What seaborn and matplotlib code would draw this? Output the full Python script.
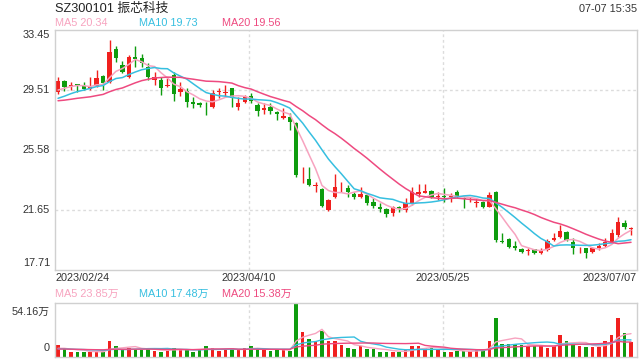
import numpy as np
import pandas as pd
import matplotlib
matplotlib.use('Agg')
import matplotlib.pyplot as plt
import seaborn as sns

# ---------------- data ----------------
opens = [29.36, 30.11, 29.81, 29.88, 29.80, 29.56, 29.80, 30.43, 30.02, 32.20,
         31.15, 30.39, 31.70, 31.59, 31.04, 30.17, 30.17, 29.78, 30.50, 29.40,
         29.45, 28.75, 28.63, 28.56, 28.42, 29.37, 29.33, 29.63, 28.42, 28.75,
         29.12, 28.53, 28.20, 28.42, 28.05, 27.70, 27.76, 27.35, 23.79, 23.68,
         23.22, 23.02, 21.65, 22.48, 23.19, 23.12, 22.69, 22.52, 22.63, 22.19,
         21.86, 21.71, 21.43, 21.86, 21.65, 22.10, 22.69, 22.79, 22.90, 22.53,
         22.56, 22.53, 22.83, 22.41, 22.33, 22.10, 22.19, 21.86, 22.85, 19.58,
         19.72, 19.28, 19.07, 18.96, 19.07, 18.85, 19.02, 19.68, 19.86, 20.22,
         19.57, 19.00, 19.13, 18.91, 19.13, 19.28, 19.50, 20.01, 20.77, 20.42]
closes = [30.11, 29.69, 29.86, 29.78, 29.56, 29.78, 30.30, 29.95, 32.03, 31.63,
          30.71, 31.66, 31.55, 31.27, 30.39, 30.39, 29.63, 29.84, 29.23, 29.58,
          28.75, 28.58, 28.56, 28.50, 29.30, 29.42, 29.38, 28.97, 28.64, 29.08,
          28.79, 28.16, 28.31, 28.16, 27.92, 27.81, 27.44, 23.94, 23.83, 23.29,
          23.27, 21.93, 22.30, 23.17, 23.25, 22.85, 22.52, 22.69, 22.09, 21.94,
          21.71, 21.38, 21.82, 21.68, 22.09, 22.83, 22.85, 22.90, 22.50, 22.56,
          22.53, 22.56, 22.53, 22.35, 22.38, 22.15, 21.86, 22.61, 19.65, 19.55,
          19.24, 19.17, 18.91, 18.99, 18.85, 18.98, 19.63, 19.83, 20.29, 19.68,
          19.13, 19.04, 18.81, 19.13, 19.28, 19.57, 20.12, 20.88, 20.55, 20.45]
highs = [30.39, 30.17, 30.06, 29.94, 30.06, 30.39, 30.83, 30.50, 32.79, 32.40,
         31.42, 31.81, 32.42, 31.86, 31.27, 30.71, 30.39, 30.28, 30.71, 30.06,
         29.63, 29.08, 28.75, 28.75, 29.51, 29.63, 29.84, 29.65, 29.08, 29.19,
         29.30, 28.64, 28.64, 28.64, 28.14, 28.31, 27.99, 27.42, 24.49, 24.49,
         23.50, 23.07, 22.37, 24.01, 23.48, 23.29, 22.85, 23.17, 22.74, 22.41,
         22.09, 21.76, 21.91, 21.91, 22.41, 23.17, 23.35, 23.35, 22.96, 22.83,
         23.09, 22.74, 22.96, 22.52, 22.52, 22.41, 22.26, 22.83, 22.89, 20.14,
         19.79, 19.61, 19.13, 19.13, 19.07, 19.13, 19.72, 20.12, 20.66, 20.29,
         19.79, 19.24, 19.17, 19.24, 19.46, 19.79, 20.38, 21.21, 20.99, 20.55]
lows = [29.23, 29.45, 29.51, 29.40, 29.51, 29.51, 29.73, 29.51, 29.95, 31.37,
        30.61, 30.32, 31.04, 31.04, 30.17, 29.84, 29.19, 29.73, 28.79, 29.12,
        28.42, 28.31, 28.38, 27.88, 28.31, 28.97, 29.08, 28.42, 28.20, 28.64,
        28.64, 27.83, 27.92, 27.92, 27.55, 27.61, 26.89, 23.83, 23.42, 23.22,
        22.83, 21.86, 21.58, 22.41, 22.83, 22.52, 22.35, 22.41, 21.97, 21.76,
        21.53, 21.21, 21.25, 21.53, 21.53, 21.97, 22.52, 22.73, 22.43, 22.30,
        22.19, 22.19, 22.41, 21.78, 22.19, 21.86, 21.76, 21.82, 19.57, 19.50,
        19.13, 19.02, 18.81, 18.69, 18.76, 18.76, 18.98, 19.61, 19.79, 19.61,
        18.76, 18.81, 18.48, 18.85, 19.02, 19.24, 19.46, 19.89, 20.38, 20.01]
# volume in 万 shares
volumes = [11.9, 7.9, 5.4, 4.7, 5.4, 5.4, 6.1, 5.4, 16.2, 10.8,
           8.3, 9.7, 8.3, 7.2, 8.3, 6.1, 5.4, 7.2, 9.7, 8.3,
           7.2, 5.4, 8.3, 10.8, 9.0, 6.1, 7.2, 9.0, 7.2, 9.0,
           10.8, 8.3, 7.2, 6.1, 8.3, 7.2, 6.1, 54.16, 25.3, 18.8,
           16.2, 27.1, 16.2, 16.2, 12.6, 9.7, 8.3, 10.8, 8.3, 8.3,
           5.4, 5.4, 5.4, 5.4, 7.2, 10.8, 10.8, 9.7, 9.7, 8.3,
           5.4, 5.4, 6.1, 6.1, 6.1, 7.2, 7.2, 16.2, 40.4, 13.4,
           13.4, 13.5, 12.0, 11.5, 11.5, 11.5, 9.5, 10.8, 22.7, 16.2,
           13.4, 11.5, 10.0, 10.0, 10.5, 16.5, 22.0, 40.4, 25.0, 15.5]
# closes / volumes of the days before the window (needed for the moving averages)
prior_closes = [28.9, 28.7, 28.5, 28.6, 28.8, 28.7, 28.4, 28.5, 28.7, 28.7,
                28.3, 28.2, 28.4, 28.6, 28.65, 29.09, 29.3, 29.45, 29.6]
prior_volumes = [7.5, 8.2, 6.9, 9.1, 7.8, 8.5, 7.2, 6.8, 8.0, 9.4,
                 7.6, 8.3, 7.1, 6.5, 8.8, 7.9, 9.6, 8.1, 7.0]

title = 'SZ300101 振芯科技'
timestamp = '07-07 15:35'
price_ticks = [33.45, 29.51, 25.58, 21.65, 17.71]
date_labels = ['2023/02/24', '2023/04/10', '2023/05/25', '2023/07/07']
price_ma_labels = ['MA5 20.34', 'MA10 19.73', 'MA20 19.56']
vol_ma_labels = ['MA5 23.85万', 'MA10 17.48万', 'MA20 15.38万']
vol_top_label = '54.16万'
vol_top = 54.16

# ---------------- style ----------------
sns.set_theme(style='white')
plt.rcParams['font.family'] = ['Liberation Sans', 'Noto Sans CJK SC', 'DejaVu Sans']

RED = '#f0201e'
GREEN = '#0e9c0e'
MA_COLORS = ['#f7a3bf', '#36bfe0', '#ee4a80']
GRID = '#dcdcdc'
SPINE = '#d0d0d0'
W, H = 640, 360

n = len(closes)
idx = np.arange(n)
o = np.array(opens); c = np.array(closes)
hi = np.array(highs); lo = np.array(lows)
vol = np.array(volumes)
up = c >= o
colors = np.where(up, RED, GREEN)

def moving(prior, vals, w):
    s = pd.Series(list(prior) + list(vals))
    return s.rolling(w).mean().iloc[len(prior):].to_numpy()

fig = plt.figure(figsize=(6.4, 3.6), dpi=100)
axp = fig.add_axes([55 / W, 1 - 270 / H, 582 / W, 240 / H])
axv = fig.add_axes([55 / W, 1 - 357 / H, 582 / W, 54 / H])

xlim = (-0.47, 89.93)
for ax in (axp, axv):
    ax.set_xlim(*xlim)
    ax.set_xticks([]); ax.set_yticks([])
    for sp in ax.spines.values():
        sp.set_color(SPINE); sp.set_linewidth(1)
    for frac in (1 / 3, 2 / 3):
        ax.axvline(xlim[0] + frac * (xlim[1] - xlim[0]), color=GRID, lw=1,
                   ls=(0, (2, 2)), zorder=0)

# ---- price panel ----
axp.set_ylim(price_ticks[-1], price_ticks[0])
for t in price_ticks[1:-1]:
    axp.axhline(t, color=GRID, lw=1, ls=(0, (2, 2)), zorder=0)

axp.vlines(idx, lo, hi, colors=colors, lw=1, zorder=2)
body_bottom = np.minimum(o, c)
body_h = np.maximum(np.abs(c - o), 0.03)
axp.bar(idx, body_h, bottom=body_bottom, width=0.68, color=colors, linewidth=0, zorder=2)

for w, col in zip((5, 10, 20), MA_COLORS):
    sns.lineplot(x=idx, y=moving(prior_closes, closes, w), ax=axp, color=col,
                 lw=1.1, legend=False, zorder=3)
axp.set_xlim(*xlim); axp.set_ylim(price_ticks[-1], price_ticks[0])
axp.set_xlabel(''); axp.set_ylabel('')

# ---- volume panel ----
axv.set_ylim(0, vol_top * 1.02)
axv.bar(idx, vol, width=0.55, color=colors, linewidth=0, zorder=2)
for w, col in zip((5, 10, 20), MA_COLORS):
    sns.lineplot(x=idx, y=moving(prior_volumes, volumes, w), ax=axv, color=col,
                 lw=1.0, legend=False, zorder=3)
axv.set_xlim(*xlim); axv.set_ylim(0, vol_top * 1.02)
axv.set_xlabel(''); axv.set_ylabel('')

# ---- texts ----
def txt(x, y, s, **kw):
    fig.text(x / W, 1 - y / H, s, **kw)

txt(55, 9, title, fontsize=9.2, color='#222222', ha='left', va='center')
txt(637, 9, timestamp, fontsize=7.8, color='#333333', ha='right', va='center')
for x, s, col in zip((55, 139, 222), price_ma_labels, MA_COLORS):
    txt(x, 23, s, fontsize=7.8, color=col, ha='left', va='center')

tick_y = [35, 90, 150, 210, 263]
for y, t in zip(tick_y, price_ticks):
    txt(50, y, f'{t:.2f}', fontsize=7.8, color='#333333', ha='right', va='center')

date_x = [(55, 'left'), (249, 'center'), (443, 'center'), (637, 'right')]
for (x, ha), s in zip(date_x, date_labels):
    txt(x, 278, s, fontsize=7.8, color='#333333', ha=ha, va='center')

for x, s, col in zip((55, 139, 222), vol_ma_labels, MA_COLORS):
    txt(x, 294, s, fontsize=7.8, color=col, ha='left', va='center')
txt(50, 312, vol_top_label, fontsize=7.8, color='#333333', ha='right', va='center')
txt(50, 348, '0', fontsize=7.8, color='#333333', ha='right', va='center')

fig.savefig('out.png', dpi=100, facecolor='white')
